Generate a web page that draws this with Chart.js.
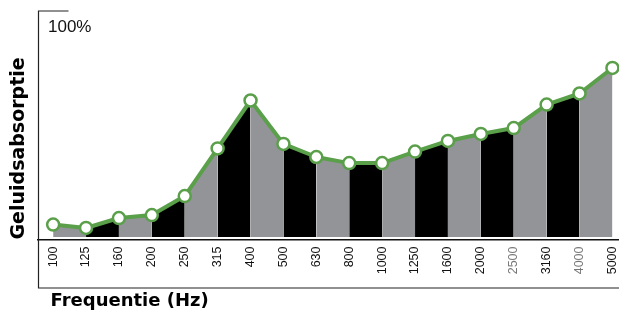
<!DOCTYPE html>
<html>
<head>
<meta charset="utf-8">
<script src="https://cdn.jsdelivr.net/npm/chart.js@4"></script>
<style>
  html, body { margin: 0; padding: 0; background: #fff; }
  #wrap { width: 619px; height: 318px; position: relative; }
</style>
</head>
<body>
<div id="wrap"><canvas id="absorptie"></canvas></div>
<script>
  // frequenties (Hz)
  const frequencies = ['100', '125', '160', '200', '250', '315', '400', '500', '630', '800',
    '1000', '1250', '1600', '2000', '2500', '3160', '4000', '5000'];
  // geluidsabsorptie in %
  const absorption = [5.5, 4.0, 8.4, 9.7, 18.1, 39.2, 60.4, 41.2, 35.4, 32.7,
    32.7, 37.8, 42.5, 45.6, 48.2, 58.6, 63.5, 74.8];
  const greyLabels = ['2500', '4000']; // deze labels staan grijs
  const yTicks = [100];

  const green = '#5a9f49';
  const grey = '#939497';

  // kader lijnen links, boven en onder
  const framePlugin = {
    id: 'frame',
    afterDraw(chart) {
      const { ctx, chartArea } = chart;
      const left = chartArea.left + 0.5;
      const bottom = chartArea.bottom + 48.5;
      ctx.save();
      ctx.strokeStyle = '#222';
      ctx.lineWidth = 1.2;
      ctx.beginPath();
      ctx.moveTo(left + 30, chartArea.top);
      ctx.lineTo(left, chartArea.top);
      ctx.lineTo(left, bottom);
      ctx.lineTo(chart.width, bottom);
      ctx.stroke();
      ctx.restore();
    }
  };

  // geen automatische marges rond de assen
  const noPadding = axis => {
    axis.paddingTop = 0;
    axis.paddingBottom = 0;
    axis.paddingLeft = 0;
    axis.paddingRight = 0;
  };

  const ctx = document.getElementById('absorptie').getContext('2d');

  const chart = new Chart(ctx, {
    type: 'line',
    data: {
      datasets: [{
        data: absorption.map((v, i) => ({ x: i, y: v })),
        borderColor: green,
        borderWidth: 4,
        tension: 0,
        fill: 'origin',
        clip: false,
        backgroundColor: grey,
        segment: {
          backgroundColor: c => c.p0DataIndex % 2 ? '#000' : grey
        },
        pointRadius: 6,
        pointHoverRadius: 6,
        pointBorderWidth: 2.5,
        pointBackgroundColor: '#fff',
        pointBorderColor: green
      }]
    },
    options: {
      responsive: true,
      maintainAspectRatio: false,
      animation: false,
      layout: { autoPadding: false, padding: { top: 11, right: 0, left: 0, bottom: 0 } },
      plugins: { legend: { display: false }, tooltip: { enabled: false } },
      scales: {
        x: {
          type: 'linear',
          min: -0.46,
          max: 17.2,
          grid: { display: false, drawTicks: false },
          border: { display: true, color: '#111', width: 1.5 },
          afterBuildTicks: axis => { axis.ticks = frequencies.map((f, i) => ({ value: i })); },
          afterFit: axis => { noPadding(axis); axis.height = 78.5; },
          ticks: {
            autoSkip: false,
            minRotation: 90,
            maxRotation: 90,
            padding: 7,
            font: { family: 'Liberation Sans', size: 12.5 },
            color: c => greyLabels.includes(frequencies[c.index]) ? '#777' : '#111',
            callback: (v, i) => frequencies[i]
          },
          title: {
            display: true,
            text: '  Frequentie (Hz)',
            align: 'start',
            color: '#000',
            font: { family: 'DejaVu Sans', size: 18, weight: 'bold' },
            padding: { top: 17, bottom: 6 }
          }
        },
        y: {
          min: -1.1,
          max: 100,
          grid: { display: false, drawTicks: false },
          border: { display: false },
          afterBuildTicks: axis => { axis.ticks = yTicks.map(v => ({ value: v })); },
          afterFit: axis => { noPadding(axis); axis.width = 38; },
          ticks: {
            mirror: true,
            padding: 10,
            labelOffset: 16,
            color: '#111',
            font: { family: 'Liberation Sans', size: 17 },
            callback: v => v + '%'
          },
          title: {
            display: true,
            text: 'Geluidsabsorptie',
            align: 'start',
            color: '#000',
            font: { family: 'DejaVu Sans', size: 19, weight: 'bold' },
            padding: { top: 8, bottom: 8 }
          }
        }
      }
    },
    plugins: [framePlugin]
  });
</script>
</body>
</html>
